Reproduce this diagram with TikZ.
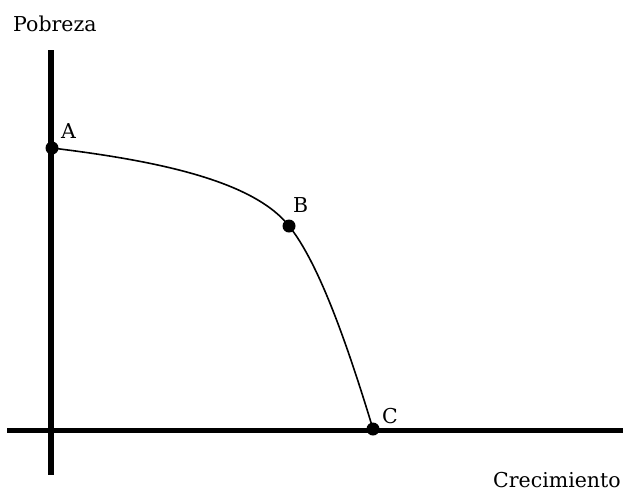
\documentclass[tikz,border=0pt]{standalone}
\usepackage{fontspec}
\setmainfont{DejaVu Serif}
\begin{document}
\begin{tikzpicture}[x=1pt,y=-1pt,
  axis/.style={line width=5.5pt},
  curve/.style={line width=1.6pt},
  dot/.style={circle,fill=black,inner sep=0pt,minimum size=13pt},
  lbl/.style={font=\fontsize{20.5}{23}\selectfont,inner sep=0pt,anchor=base west},
  ptlbl/.style={font=\fontsize{20.5}{23}\selectfont,inner sep=0pt,anchor=base west}]
\useasboundingbox (0,0) rectangle (623,493);
% axes
\coordinate (ytop) at (51,50);
\coordinate (ybot) at (51,475);
\coordinate (xl) at (7,430.5);
\coordinate (xr) at (623,430.5);
\draw[axis] (ytop) -- (ybot);
\draw[axis] (xl) -- (xr);
% points
\node[dot] (A) at (52,148) {};
\node[dot] (B) at (289,226) {};
\node[dot] (C) at (373,429) {};
% curve
\draw[curve] (A.center) .. controls (150,160) and (252,179) .. (B.center)
  .. controls (318,262) and (346,340) .. (C.center);
% labels
\node[ptlbl] (la) at (61,138) {A};
\node[ptlbl] (lb) at (293,212) {B};
\node[ptlbl] (lc) at (382,423) {C};
\node[lbl] (ly) at (13,31) {Pobreza};
\node[lbl] (lx) at (493,487) {Crecimiento};
\end{tikzpicture}
\end{document}
